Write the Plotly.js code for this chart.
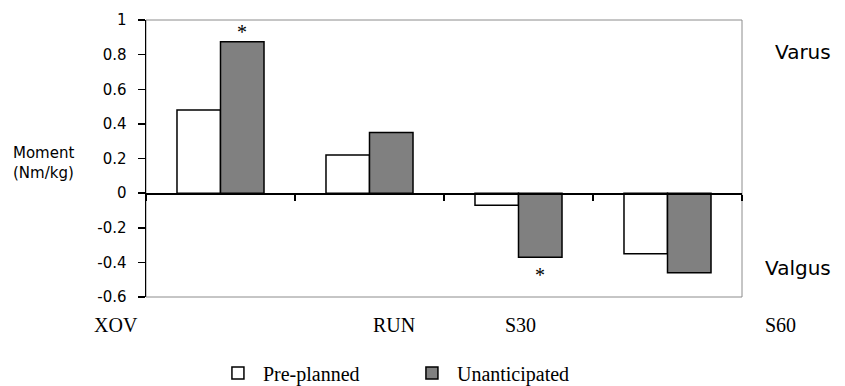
<!DOCTYPE html>
<html>
<head>
<meta charset="utf-8">
<script src="https://cdn.plot.ly/plotly-3.0.1.min.js"></script>
<style>html,body{margin:0;padding:0;background:#fff;} #chart{width:845px;height:386px;}</style>
</head>
<body>
<div id="chart"></div>
<script>
// ---- data ----
const categories = ["XOV", "RUN", "S30", "S60"];
const prePlanned = [0.48, 0.22, -0.07, -0.35];
const unanticipated = [0.875, 0.35, -0.37, -0.46];
const significant = [true, false, true, false];
const seriesNames = ["Pre-planned", "Unanticipated"];
const yTicks = [-0.6, -0.4, -0.2, 0, 0.2, 0.4, 0.6, 0.8, 1];
const yTickText = yTicks.map(v => String(v));
const yTitle = "Moment<br>(Nm/kg)";
const sideLabels = ["Varus", "Valgus"];

// ---- style / positions ----
const sans = "DejaVu Sans, Arial, sans-serif";
const serif = "Liberation Serif, Times New Roman, serif";
const catLabelX = [-0.0503, 0.416, 0.629, 1.064]; // paper coords of odd category labels
const bargap = 0.416;
const barOffset = (1 - bargap) / 4; // centre of 2nd bar within group

const traces = [
  {
    type: "bar", name: seriesNames[0], x: categories, y: prePlanned,
    marker: {color: "#ffffff", line: {color: "#000000", width: 1.5}},
    hoverinfo: "none"
  },
  {
    type: "bar", name: seriesNames[1], x: categories, y: unanticipated,
    marker: {color: "#808080", line: {color: "#000000", width: 1.5}},
    hoverinfo: "none"
  }
];

const annotations = categories.map((c, i) => ({
  xref: "paper", yref: "paper", x: catLabelX[i], y: -0.101,
  text: c, showarrow: false, xanchor: "center", yanchor: "middle",
  font: {family: serif, size: 20, color: "#000"}
}));
significant.forEach((s, i) => {
  if (!s) return;
  const v = unanticipated[i];
  annotations.push({
    xref: "x", yref: "y", x: i + barOffset, y: v, text: "*",
    showarrow: false, xanchor: "center", yanchor: "middle",
    yshift: v >= 0 ? 10 : -18,
    font: {family: serif, size: 20, color: "#000"}
  });
});
annotations.push({
  xref: "paper", yref: "paper", x: -0.2265, y: 0.485, text: yTitle,
  showarrow: false, xanchor: "left", yanchor: "middle", align: "left",
  font: {family: sans, size: 15, color: "#000"}
});
annotations.push({
  xref: "paper", yref: "paper", x: 1.052, y: 0.884, text: sideLabels[0],
  showarrow: false, xanchor: "left", yanchor: "middle",
  font: {family: sans, size: 20, color: "#000"}
});
annotations.push({
  xref: "paper", yref: "paper", x: 1.035, y: 0.105, text: sideLabels[1],
  showarrow: false, xanchor: "left", yanchor: "middle",
  font: {family: sans, size: 20, color: "#000"}
});

const layout = {
  width: 845, height: 386,
  margin: {l: 146, r: 103, t: 20, b: 89},
  paper_bgcolor: "#fff", plot_bgcolor: "#fff",
  barmode: "group", bargap: bargap, bargroupgap: 0,
  showlegend: true,
  legend: {
    orientation: "h", xref: "container", yref: "container",
    x: 0.252, xanchor: "left", y: 0.034, yanchor: "middle",
    font: {family: serif, size: 20, color: "#000"},
    itemwidth: 40, entrywidth: 139, bgcolor: "rgba(0,0,0,0)", traceorder: "normal"
  },
  xaxis: {
    type: "category", range: [-0.5, 3.5], anchor: "free", position: 0.375,
    showline: true, linecolor: "#000", linewidth: 1.5,
    ticks: "outside", tickson: "boundaries", ticklen: 6, tickcolor: "#000", tickwidth: 1.5,
    showticklabels: false, showgrid: false, zeroline: false, fixedrange: true
  },
  yaxis: {
    range: [-0.6, 1], tickvals: yTicks, ticktext: yTickText,
    ticks: "outside", ticklen: 7, tickcolor: "#000", tickwidth: 1.5,
    showline: true, linecolor: "#000", linewidth: 1.5,
    showgrid: false, zeroline: false, ticklabelstandoff: 8,
    tickfont: {family: sans, size: 15, color: "#000"}, fixedrange: true
  },
  shapes: [{
    type: "rect", xref: "paper", yref: "paper", x0: 0, x1: 1, y0: 0, y1: 1,
    line: {color: "#8c8c8c", width: 1}, layer: "below"
  }],
  annotations: annotations
};

Plotly.newPlot("chart", traces, layout, {displayModeBar: false, staticPlot: true});
</script>
</body>
</html>
